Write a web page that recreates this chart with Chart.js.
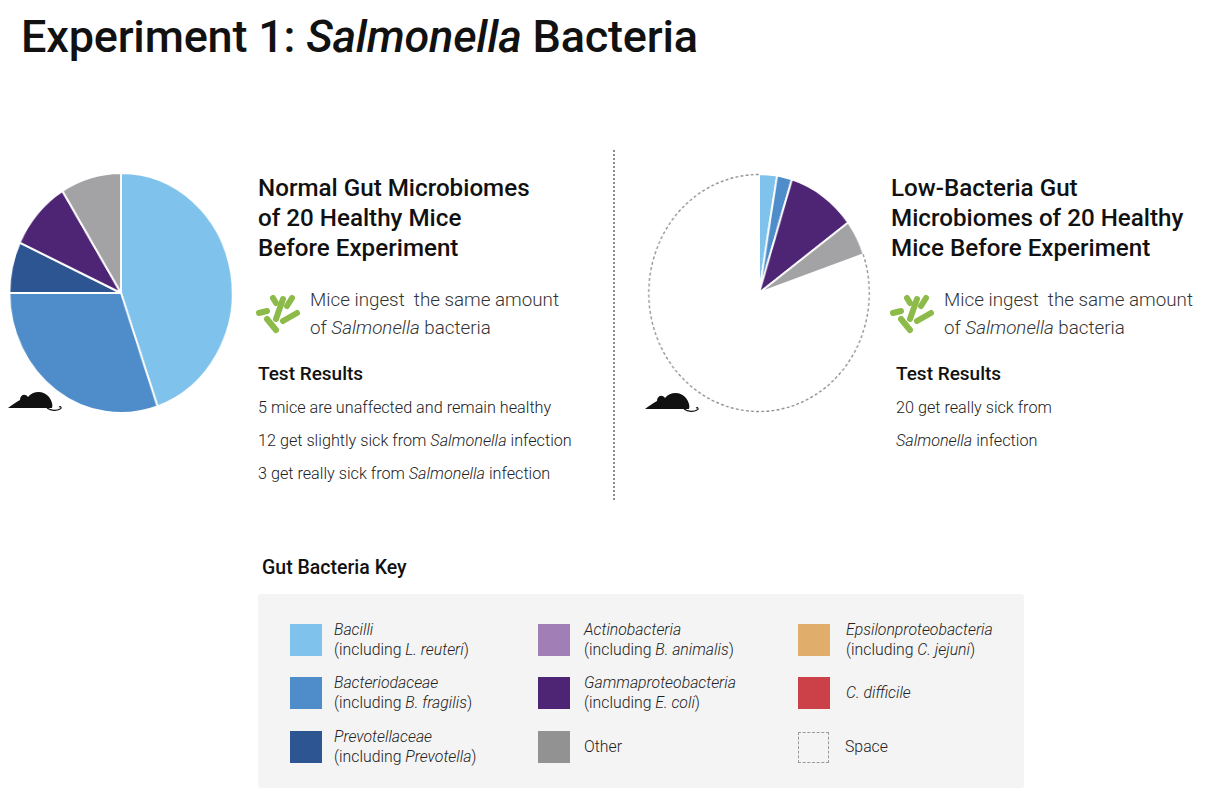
<!DOCTYPE html>
<html>
<head>
<meta charset="utf-8">
<script src="https://cdn.jsdelivr.net/npm/chart.js@4.4.1/dist/chart.umd.min.js"></script>
<style>
  html, body { margin:0; padding:0; background:#fff; }
  body { width:1228px; height:798px; position:relative; overflow:hidden; font-family: Roboto, "Noto Sans", sans-serif; color:#111; }
  .abs { position:absolute; }
  #title { left:21px; top:10px; font-size:45px; font-weight:500; line-height:54px; letter-spacing:-0.2px; white-space:nowrap; }
  .pie { position:absolute; transform:scaleX(0.93); transform-origin:50% 50%; }
  .head { font-size:24.2px; font-weight:500; line-height:30px; white-space:nowrap; color:#111; }
  .ingest { font-size:18.8px; font-weight:300; line-height:28px; white-space:nowrap; color:#333; }
  .tr { font-size:19px; font-weight:500; line-height:24px; white-space:nowrap; }
  .res { font-size:16.2px; font-weight:300; line-height:33px; white-space:nowrap; color:#222; }
  #divider { left:613px; top:150px; height:350px; border-left:2px dotted #8d8d8d; }
  #keytitle { left:262px; top:556px; font-size:19.5px; font-weight:500; line-height:24px; }
  #keybox { left:258px; top:594px; width:766px; height:194px; background:#f4f4f4; border-radius:3px; }
  .item { position:absolute; display:flex; align-items:center; height:32px; }
  .sw { width:32px; height:32px; flex:none; }
  .lt { font-size:15.8px; line-height:20px; font-weight:300; color:#222; white-space:nowrap; }
  i { font-style:italic; }
</style>
</head>
<body>
<div id="title" class="abs">Experiment 1: <i>Salmonella</i> Bacteria</div>

<div class="pie" style="left:0px; top:172px; width:242px; height:242px;"><canvas id="pieNormal" width="242" height="242"></canvas></div>
<div class="pie" style="left:639px; top:173px; width:240px; height:240px;"><canvas id="pieLow" width="240" height="240"></canvas></div>

<svg class="abs" style="left:8px; top:388px;" width="54" height="24" viewBox="0 0 54 24">
  <path d="M0 20 C4 17 8 14 12 12 C12 7 17 5 20 9 C25 3 35 2 41 9 C44 13 45 17 44 20 Z" fill="#111"/>
  <path d="M39 20 C43 23 49 23 52 21 C54 20 53 18 51 19" stroke="#111" stroke-width="1.1" fill="none"/>
</svg>
<svg class="abs" style="left:645px; top:389px;" width="54" height="24" viewBox="0 0 54 24">
  <path d="M0 20 C4 17 8 14 12 12 C12 7 17 5 20 9 C25 3 35 2 41 9 C44 13 45 17 44 20 Z" fill="#111"/>
  <path d="M39 20 C43 23 49 23 52 21 C54 20 53 18 51 19" stroke="#111" stroke-width="1.1" fill="none"/>
</svg>

<div id="divider" class="abs"></div>

<!-- left text block -->
<div class="abs head" style="left:258px; top:173px;">Normal Gut Microbiomes<br>of 20 Healthy Mice<br>Before Experiment</div>
<svg class="abs" style="left:254px; top:293px;" width="48" height="42" viewBox="0 0 48 42">
  <g stroke="#8dbb4a" stroke-width="6" stroke-linecap="round" fill="none">
    <line x1="19" y1="5" x2="22" y2="10"/>
    <line x1="29" y1="6" x2="22" y2="26"/>
    <line x1="38" y1="5" x2="33" y2="13"/>
    <line x1="5" y1="20" x2="13" y2="18"/>
    <line x1="13" y1="26" x2="22" y2="37"/>
    <line x1="29" y1="28" x2="43" y2="20"/>
  </g>
</svg>
<div class="abs ingest" style="left:310px; top:286px;">Mice ingest&nbsp; the same amount<br>of <i>Salmonella</i> bacteria</div>
<div class="abs tr" style="left:258px; top:362px;">Test Results</div>
<div class="abs res" style="left:258px; top:391px;">5 mice are unaffected and remain healthy<br>12 get slightly sick from <i>Salmonella</i> infection<br>3 get really sick from <i>Salmonella</i> infection</div>

<!-- right text block -->
<div class="abs head" style="left:891px; top:173px;">Low-Bacteria Gut<br>Microbiomes of 20 Healthy<br>Mice Before Experiment</div>
<svg class="abs" style="left:888px; top:293px;" width="48" height="42" viewBox="0 0 48 42">
  <g stroke="#8dbb4a" stroke-width="6" stroke-linecap="round" fill="none">
    <line x1="19" y1="5" x2="22" y2="10"/>
    <line x1="29" y1="6" x2="22" y2="26"/>
    <line x1="38" y1="5" x2="33" y2="13"/>
    <line x1="5" y1="20" x2="13" y2="18"/>
    <line x1="13" y1="26" x2="22" y2="37"/>
    <line x1="29" y1="28" x2="43" y2="20"/>
  </g>
</svg>
<div class="abs ingest" style="left:944px; top:286px;">Mice ingest&nbsp; the same amount<br>of <i>Salmonella</i> bacteria</div>
<div class="abs tr" style="left:896px; top:362px;">Test Results</div>
<div class="abs res" style="left:896px; top:391px;">20 get really sick from<br><i>Salmonella</i> infection</div>

<!-- key -->
<div id="keytitle" class="abs">Gut Bacteria Key</div>
<div id="keybox" class="abs"></div>
<div id="legend"></div>

<script>
// ---- data ----
const keyNames = ['Bacilli','Bacteriodaceae','Prevotellaceae','Actinobacteria','Gammaproteobacteria','Other','Epsilonproteobacteria','C. difficile','Space'];
const keyNotes = ['(including <i>L. reuteri</i>)','(including <i>B. fragilis</i>)','(including <i>Prevotella</i>)','(including <i>B. animalis</i>)','(including <i>E. coli</i>)','','(including <i>C. jejuni</i>)','',''];
const keyItalic = [true,true,true,true,true,false,true,true,false];
const keyColors = ['#7fc2eb','#4f8dca','#2d5592','#a17fb6','#4e2474','#929292','#e0ad6a','#cc4048','#ffffff'];

const normalLabels = ['Bacilli','Bacteriodaceae','Prevotellaceae','Gammaproteobacteria','Other'];
const normalValues = [44.7, 30.3, 6.9, 9.3, 8.8];

const lowLabels = ['Bacilli','Bacteriodaceae','Gammaproteobacteria','Other','Space'];
const lowValues = [2.6, 2.2, 10.1, 4.8, 80.3];

const pieGrey = '#a3a3a5';
function colorFor(name){ return name === 'Other' ? pieGrey : keyColors[keyNames.indexOf(name)]; }

// ---- legend (HTML) ----
const colX = [290, 538, 798];
const rowY = [624, 677, 731];
const leg = document.getElementById('legend');
keyNames.forEach((n, i) => {
  const c = Math.floor(i / 3), r = i % 3;
  const d = document.createElement('div');
  d.className = 'item';
  d.style.left = colX[c] + 'px';
  d.style.top = rowY[r] + 'px';
  const sw = n === 'Space'
    ? '<div class="sw" style="box-sizing:border-box;border:1.5px dashed #9a9a9a;width:31px;height:31px;"></div>'
    : '<div class="sw" style="background:' + keyColors[i] + '"></div>';
  const name = keyItalic[i] ? '<i>' + n + '</i>' : n;
  d.innerHTML = sw + '<div class="lt" style="margin-left:' + (c === 2 ? 16 : c === 1 ? 14 : 12) + 'px">' + name + (keyNotes[i] ? '<br>' + keyNotes[i] : '') + '</div>';
  leg.appendChild(d);
});

// ---- pies ----
const dashedSpace = {
  id: 'dashedSpace',
  afterDatasetsDraw(chart) {
    const meta = chart.getDatasetMeta(0);
    const labels = chart.data.labels;
    meta.data.forEach((arc, i) => {
      if (labels[i] !== 'Space') return;
      const p = arc.getProps(['x','y','startAngle','endAngle','outerRadius'], true);
      const ctx = chart.ctx;
      ctx.save();
      ctx.beginPath();
      ctx.arc(p.x, p.y, p.outerRadius - 0.5, p.startAngle, p.endAngle);
      ctx.setLineDash([3, 2.5]);
      ctx.strokeStyle = '#8f8f8f';
      ctx.lineWidth = 1.4;
      ctx.stroke();
      ctx.restore();
    });
  }
};

function makePie(id, labels, values) {
  new Chart(document.getElementById(id), {
    type: 'pie',
    data: {
      labels: labels,
      datasets: [{
        data: values,
        backgroundColor: labels.map(colorFor),
        borderColor: '#ffffff',
        borderWidth: labels.map(l => l === 'Space' ? 0 : 2)
      }]
    },
    options: {
      responsive: false,
      animation: false,
      layout: { padding: 0 },
      plugins: { legend: { display: false }, tooltip: { enabled: false } }
    },
    plugins: [dashedSpace]
  });
}
makePie('pieNormal', normalLabels, normalValues);
makePie('pieLow', lowLabels, lowValues);
</script>
</body>
</html>
